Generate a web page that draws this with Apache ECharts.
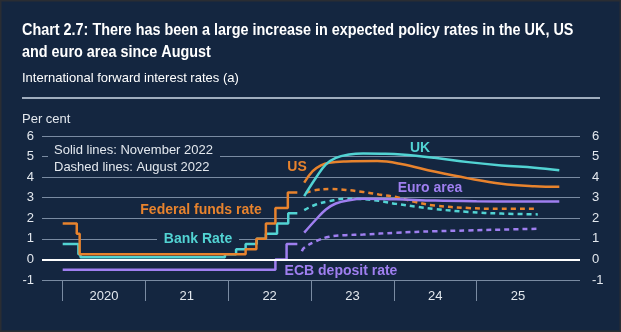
<!DOCTYPE html>
<html>
<head>
<meta charset="utf-8">
<script src="https://cdn.jsdelivr.net/npm/echarts@6/dist/echarts.min.js"></script>
<style>
html,body{margin:0;padding:0;background:#142640;}
#chart{width:621px;height:332px;}
</style>
</head>
<body>
<div id="chart"></div>
<script>
// ---- Data ----
const yearTicks = [2020, 2021, 2022, 2023, 2024, 2025];
const yearLabelPos = [2020.5, 2021.5, 2022.5, 2023.5, 2024.5, 2025.5];
const yearLabels = ['2020', '21', '22', '23', '24', '25'];
const yTicks = [-1, 0, 1, 2, 3, 4, 5, 6];

// Policy rates (step series): [decimal year, value]
const fedDates   = [2020.0, 2020.17, 2020.205, 2022.21, 2022.34, 2022.455, 2022.57, 2022.72, 2022.835];
const fedValues  = [1.75, 1.25, 0.25, 0.5, 1.0, 1.75, 2.5, 3.25, 3.25];
const bankDates  = [2020.0, 2020.19, 2020.215, 2021.96, 2022.095, 2022.21, 2022.345, 2022.455, 2022.59, 2022.725, 2022.835];
const bankValues = [0.75, 0.25, 0.1, 0.25, 0.5, 0.75, 1.0, 1.25, 1.75, 2.25, 2.25];
const ecbDates   = [2020.0, 2022.57, 2022.705, 2022.835];
const ecbValues  = [-0.5, 0, 0.75, 0.75];

// Forward curves, November 2022 (solid)
const ukNovDates  = [2022.918, 2023.06, 2023.18, 2023.30, 2023.46, 2023.63, 2023.85, 2024.09, 2024.49, 2024.90, 2025.30, 2025.70, 2026.0];
const ukNovValues = [3.08, 3.97, 4.62, 4.94, 5.10, 5.15, 5.14, 5.10, 4.94, 4.73, 4.57, 4.46, 4.34];
const usNovDates  = [2022.918, 2023.02, 2023.12, 2023.22, 2023.42, 2023.80, 2024.09, 2024.49, 2024.90, 2025.30, 2025.70, 2026.0];
const usNovValues = [3.73, 4.29, 4.57, 4.70, 4.76, 4.78, 4.64, 4.27, 3.94, 3.68, 3.56, 3.53];
const euNovDates  = [2022.918, 2023.06, 2023.18, 2023.30, 2023.46, 2023.63, 2024.03, 2024.5, 2025.0, 2025.5, 2026.0];
const euNovValues = [1.30, 1.94, 2.43, 2.72, 2.88, 2.95, 2.92, 2.86, 2.83, 2.82, 2.82];

// Forward curves, August 2022 (dashed)
const ukAugDates  = [2022.918, 2023.06, 2023.22, 2023.42, 2023.63, 2023.82, 2024.03, 2024.30, 2024.49, 2024.90, 2025.30, 2025.74];
const ukAugValues = [2.40, 2.67, 2.83, 2.95, 2.93, 2.85, 2.70, 2.55, 2.45, 2.31, 2.23, 2.19];
const usAugDates  = [2022.938, 2023.06, 2023.22, 2023.42, 2023.63, 2023.82, 2024.03, 2024.25, 2024.49, 2024.90, 2025.30, 2025.74];
const usAugValues = [3.24, 3.37, 3.42, 3.38, 3.28, 3.16, 3.03, 2.80, 2.62, 2.50, 2.46, 2.46];
const euAugDates  = [2022.89, 2022.918, 2023.06, 2023.22, 2023.42, 2023.63, 2024.03, 2024.50, 2024.90, 2025.30, 2025.74];
const euAugValues = [0.40, 0.57, 0.89, 1.10, 1.18, 1.21, 1.30, 1.37, 1.41, 1.45, 1.49];

// ---- Styles ----
const BG = '#142640';
const ORANGE = '#e8832d';
const CYAN = '#52d3d3';
const PURPLE = '#9f7ff0';
const TXT = '#e3e8ee';
const GRID = '#7a8ba2';

const zip = (a, b) => a.map((x, i) => [x, b[i]]);

function stepSeries(name, d, v, color) {
  return { name, type: 'line', step: 'end', data: zip(d, v), symbol: 'none',
    lineStyle: { color, width: 2.5 }, z: 3, animation: false };
}
function curve(name, d, v, color, dashed) {
  return { name, type: 'line', smooth: 0.4, data: zip(d, v), symbol: 'none',
    lineStyle: { color, width: 2.5, type: dashed ? [5, 4] : 'solid' }, z: dashed ? 3 : 4, animation: false };
}

const chart = echarts.init(document.getElementById('chart'), null, { renderer: 'canvas' });

const FONT = '"Liberation Sans", Arial, sans-serif';

function label(text, x, y, color, size, bold, align, sx) {
  return { type: 'text', x, y, z: 20, scaleX: sx || 1, originX: 0, originY: 0,
    style: { text, fill: color, font: (bold ? 'bold ' : '') + size + 'px ' + FONT,
      textAlign: align || 'center', textVerticalAlign: 'middle' } };
}
function box(x, y, w, h) {
  return { type: 'rect', z: 1, shape: { x, y, width: w, height: h }, style: { fill: BG } };
}

const option = {
  backgroundColor: BG,
  animation: false,
  grid: { left: 42, right: 41, top: 136, bottom: 52 },
  xAxis: {
    type: 'value', min: 2019.75, max: 2026.25, position: 'bottom',
    axisLine: { show: false, onZero: false },
    splitLine: { show: false },
    axisTick: { show: true, customValues: yearTicks, length: 21, lineStyle: { color: GRID, width: 1 } },
    axisLabel: { customValues: yearLabelPos, margin: 10, color: TXT, fontSize: 13, fontFamily: FONT,
      formatter: (v) => { const i = yearLabelPos.findIndex(p => Math.abs(p - v) < 1e-6); return i >= 0 ? yearLabels[i] : ''; } }
  },
  yAxis: [
    { type: 'value', min: -1, max: 6, interval: 1, position: 'left',
      axisLine: { show: false }, axisTick: { show: false },
      axisLabel: { color: TXT, fontSize: 13, margin: 8, fontFamily: FONT },
      splitLine: { lineStyle: { color: GRID, width: 1 } } },
    { type: 'value', min: -1, max: 6, interval: 1, position: 'right',
      axisLine: { show: false }, axisTick: { show: false },
      axisLabel: { color: TXT, fontSize: 13, margin: 12, fontFamily: FONT },
      splitLine: { show: false } }
  ],
  series: [
    { type: 'line', data: [], markLine: { silent: true, symbol: 'none', label: { show: false },
        lineStyle: { color: '#ffffff', width: 2, type: 'solid' }, data: [{ yAxis: 0 }] }, z: 2 },
    stepSeries('ECB deposit rate', ecbDates, ecbValues, PURPLE),
    stepSeries('Bank Rate', bankDates, bankValues, CYAN),
    stepSeries('Federal funds rate', fedDates, fedValues, ORANGE),
    curve('Euro area Aug', euAugDates, euAugValues, PURPLE, true),
    curve('UK Aug', ukAugDates, ukAugValues, CYAN, true),
    curve('US Aug', usAugDates, usAugValues, ORANGE, true),
    curve('Euro area Nov', euNovDates, euNovValues, PURPLE, false),
    curve('US Nov', usNovDates, usNovValues, ORANGE, false),
    curve('UK Nov', ukNovDates, ukNovValues, CYAN, false)
  ],
  graphic: [
    { type: 'rect', z: 0, silent: true, shape: { x: 0.5, y: 0.5, width: 620, height: 331 },
      style: { fill: 'none', stroke: '#2a2d33', lineWidth: 2 } },
    label('Chart 2.7: There has been a large increase in expected policy rates in the UK, US', 22, 31, '#ffffff', 16, true, 'left', 0.9),
    label('and euro area since August', 22, 53, '#ffffff', 16, true, 'left', 0.9),
    label('International forward interest rates (a)', 22, 78, '#ffffff', 13, false, 'left'),
    { type: 'line', z: 5, shape: { x1: 22, y1: 98, x2: 600, y2: 98 }, style: { stroke: '#cfdbe8', lineWidth: 1.5 } },
    label('Per cent', 22, 119, TXT, 13, false, 'left'),
    box(48, 141, 172, 33),
    label('Solid lines: November 2022', 54, 150, TXT, 13, false, 'left'),
    label('Dashed lines: August 2022', 54, 167, TXT, 13, false, 'left'),
    box(157, 231, 82, 16),
    label('Bank Rate', 198, 239, CYAN, 14, true, 'center'),
    label('Federal funds rate', 201, 210, ORANGE, 14, true, 'center'),
    label('ECB deposit rate', 341, 271, PURPLE, 14, true, 'center'),
    label('US', 297, 167, ORANGE, 14, true, 'center'),
    label('UK', 420, 148, CYAN, 14, true, 'center'),
    label('Euro area', 430, 188, PURPLE, 14, true, 'center')
  ]
};
chart.setOption(option);
</script>
</body>
</html>
